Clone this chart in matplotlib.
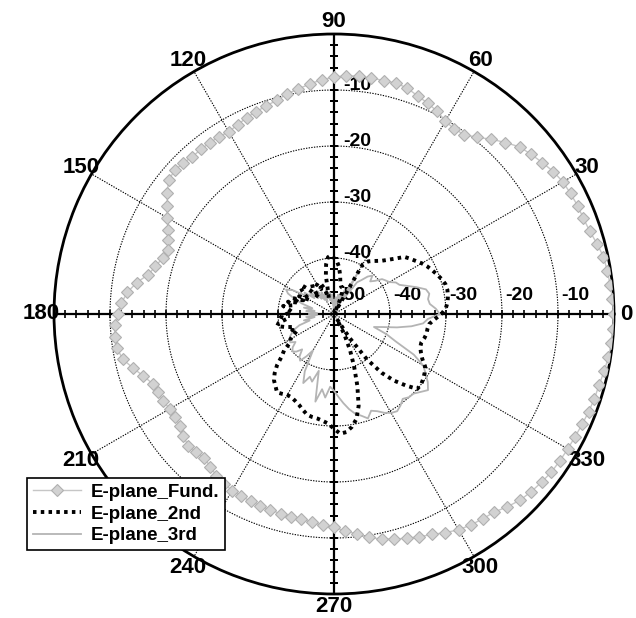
import numpy as np
import matplotlib.pyplot as plt

plt.rcParams['font.family'] = ['Liberation Sans', 'DejaVu Sans']

# angle (deg) of each sample, every 3 degrees
angles_deg = np.arange(0, 360, 3)

fund = [0.0, -0.2, -0.4, -0.6, -0.8, -1.4, -2.0, -2.3, -2.4, -2.6,
        -2.8, -3.3, -4.0, -4.7, -5.4, -6.7, -8.0, -9.4, -10.4, -10.6,
        -10.2, -9.4, -8.8, -8.3, -7.6, -7.3, -7.4, -7.3, -7.3, -7.4,
        -7.7, -8.1, -8.7, -9.3, -9.8, -10.5, -10.9, -11.3, -11.6, -12.1,
        -12.4, -12.3, -12.2, -12.2, -12.2, -11.9, -11.7, -12.0, -13.2, -14.5,
        -15.6, -16.8, -17.6, -18.2, -17.8, -17.0, -16.1, -14.3, -12.9, -12.0,
        -11.5, -10.9, -10.6, -10.8, -11.4, -12.8, -14.2, -15.3, -15.6, -15.8,
        -16.1, -16.2, -16.0, -15.4, -14.9, -15.2, -15.4, -14.9, -14.3, -13.9,
        -13.6, -13.5, -13.4, -13.3, -13.2, -13.1, -13.0, -12.9, -12.6, -12.2,
        -11.9, -11.2, -10.5, -9.6, -8.9, -8.4, -7.9, -7.4, -6.9, -6.2,
        -5.5, -5.1, -4.8, -4.5, -3.7, -3.0, -2.6, -2.3, -2.0, -1.9,
        -1.8, -1.7, -1.5, -1.3, -1.1, -1.0, -0.7, -0.4, -0.2, -0.1]

second = [-30.8, -30.0, -29.6, -29.4, -29.3, -29.4, -29.8, -30.3, -30.8, -31.3,
          -31.9, -32.6, -33.2, -33.8, -35.2, -36.3, -37.2, -37.8, -38.3, -38.8,
          -39.8, -50.0, -48.0, -46.0, -45.0, -45.0, -44.5, -43.0, -41.5, -40.5,
          -40.0, -39.5, -39.8, -41.0, -43.0, -46.0, -47.0, -45.0, -44.0, -45.0,
          -44.0, -43.5, -43.3, -44.0, -46.0, -44.0, -42.5, -42.3, -43.0, -44.0,
          -45.0, -43.0, -44.0, -42.0, -43.5, -41.5, -42.5, -40.8, -41.8, -42.5,
          -41.5, -40.5, -41.5, -40.0, -39.6, -41.0, -42.5, -42.0, -42.8, -42.0,
          -41.0, -40.7, -39.0, -38.0, -36.3, -35.0, -34.0, -33.4, -32.7, -33.0,
          -33.3, -33.3, -33.0, -32.6, -32.0, -31.4, -31.2, -31.1, -30.8, -30.4,
          -29.5, -28.6, -28.8, -29.6, -30.8, -33.0, -36.5, -40.0, -43.0, -46.0,
          -49.0, -45.0, -40.0, -36.5, -34.0, -32.0, -30.0, -30.0, -30.3, -30.7,
          -31.2, -32.3, -33.0, -33.5, -33.6, -33.3, -33.1, -33.1, -32.9, -32.0]

third = [-31.1, -31.8, -32.8, -33.0, -32.6, -33.0, -34.5, -36.0, -37.2, -37.6,
         -38.6, -39.0, -39.4, -40.6, -41.3, -40.3, -41.0, -42.2, -43.0, -46.5,
         -41.5, -47.0, -45.5, -47.5, -46.0, -48.0, -46.5, -48.5, -47.0, -49.0,
         -47.5, -48.5, -46.5, -48.0, -46.0, -47.5, -45.5, -47.0, -46.0, -47.5,
         -45.5, -47.0, -45.0, -46.5, -44.5, -46.0, -44.0, -45.5, -43.5, -44.0,
         -41.5, -40.4, -41.0, -42.5, -44.0, -46.0, -44.5, -46.5, -45.0, -47.0,
         -45.5, -47.0, -45.0, -46.5, -44.5, -45.5, -43.5, -42.5, -41.8, -41.2,
         -40.8, -40.7, -41.5, -40.5, -40.0, -40.5, -41.5, -40.2, -39.7, -41.0,
         -42.5, -38.5, -36.5, -38.0, -37.3, -39.5, -34.0, -36.4, -35.0, -37.0,
         -36.3, -35.2, -34.0, -32.8, -31.8, -31.2, -30.4, -31.5, -31.0, -30.2,
         -29.6, -29.3, -29.8, -30.5, -30.0, -29.9, -29.2, -28.4, -29.3, -30.5,
         -31.6, -34.0, -37.9, -40.0, -42.5, -41.0, -38.5, -36.0, -34.0, -33.2]

ring_levels = [-40, -30, -20, -10]
radial_labels = [-50, -40, -30, -20, -10]
angle_labels = [0, 30, 60, 90, 120, 150, 180, 210, 240, 270, 300, 330]


def closed(vals):
    return np.append(vals, vals[0])


theta = np.deg2rad(np.append(angles_deg, 360))

fig = plt.figure(figsize=(6.36, 6.18), dpi=100)
ax = fig.add_axes([54 / 636, 24 / 618, 560 / 636, 560 / 618], projection='polar')
ax.set_ylim(-50, 0)
ax.grid(False)
ax.set_yticks([])

# dotted rings and spokes
full = np.linspace(0, 2 * np.pi, 721)
for r in ring_levels:
    ax.plot(full, np.full_like(full, r), color='k', lw=0.8, ls=(0, (1.2, 1.2)), zorder=1)
for a in angle_labels:
    if a % 90:
        ax.plot([np.deg2rad(a)] * 2, [-50, 0], color='k', lw=0.8, ls=(0, (1.2, 1.2)), zorder=1)

# solid main axes with small ticks every 2 dB
rr = np.arange(-48, 0, 2)
for a in (0, 90, 180, 270):
    t = np.deg2rad(a)
    ax.plot([t, t], [-50, 0], color='k', lw=1.6, zorder=2)
    ax.plot(np.full(rr.size, t), rr, ls='none', color='k',
            marker='|' if a % 180 == 0 else '_', ms=6, mew=1.2, zorder=2)

# radial value labels
for r in ring_levels:
    ax.annotate(str(r), xy=(np.pi / 2, r), xytext=(6.5, 3.6), textcoords='offset points',
                ha='left', va='center', fontsize=14, fontweight='bold', zorder=1)
for r in radial_labels:
    ax.annotate(str(r), xy=(0, r), xytext=(2, 13), textcoords='offset points',
                ha='left', va='center', fontsize=14, fontweight='bold', zorder=1)

# curves
ax.plot(theta, closed(fund), color='#c6c6c6', lw=1.0, marker='D', ms=6.5,
        mfc='#d2d2d2', mec='#b0b0b0', mew=0.8, label='E-plane_Fund.', zorder=4)
ax.plot(theta, closed(second), color='black', lw=2.8, ls=(0, (0.9, 1.1)),
        label='E-plane_2nd', zorder=5)
ax.plot(theta, closed(third), color='#b4b4b4', lw=1.3, label='E-plane_3rd', zorder=3)

# angle ticks and labels
ax.set_xticks(np.deg2rad(angle_labels))
ax.set_xticklabels([str(a) for a in angle_labels], fontsize=16, fontweight='bold')
ax.set_xticks(np.deg2rad(np.arange(0, 360, 5)), minor=True)
ax.tick_params(axis='x', which='both', direction='in', length=8, width=1.3, pad=2)
ax.spines['polar'].set_linewidth(2)

leg = fig.legend(loc='lower left', bbox_to_anchor=(27 / 636, 68 / 618), borderaxespad=0,
                 prop={'weight': 'bold', 'size': 13.5}, handlelength=2.6, borderpad=0.3,
                 labelspacing=0.25, handletextpad=0.5, fancybox=False, framealpha=1,
                 edgecolor='black')
leg.get_frame().set_linewidth(1.2)

plt.savefig('out.png', dpi=100)
